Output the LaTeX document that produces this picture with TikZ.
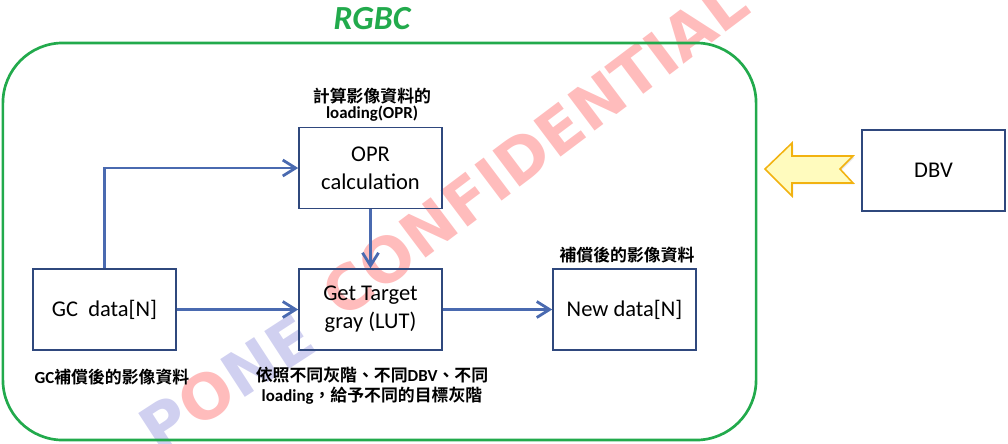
\documentclass[tikz,border=0pt]{standalone}
\usepackage{fontspec}
\setmainfont{Carlito}
\newfontfamily\cjk{Noto Sans CJK TC}[BoldFont={Noto Sans CJK TC Bold}]
\newfontfamily\wmfont{DejaVu Sans}
\usetikzlibrary{arrows.meta,shadows}
\definecolor{rgbcgreen}{RGB}{34,170,76}
\definecolor{boxblue}{RGB}{47,72,125}
\definecolor{linkblue}{RGB}{74,106,176}
\definecolor{arrowfill}{RGB}{255,251,190}
\definecolor{arrowedge}{RGB}{242,178,16}
\definecolor{wmpink}{RGB}{255,188,188}
\definecolor{wmlav}{RGB}{208,208,240}
\begin{document}
\begin{tikzpicture}[x=0.025cm,y=-0.025cm,
  procbox/.style={draw=boxblue,line width=1.1pt,minimum width=3.575cm,minimum height=2.025cm,
    align=center,inner sep=0pt,font=\fontsize{16}{20}\selectfont},
  link/.style={draw=linkblue,line width=2pt,
    -{Straight Barb[length=0.32cm,width=0.4cm,line width=2pt]}},
  note/.style={align=center,inner sep=0pt,font=\bfseries\fontsize{12}{14.2}\selectfont},
  wmark/.style={font=\wmfont\bfseries\fontsize{44}{44}\selectfont,inner sep=0pt}]
\useasboundingbox (0,0) rectangle (1008,443);

% watermark
\node[wmark,text=wmpink,rotate=37] (wm2) at (535,148) {CONFIDENTIAL};
\node[wmark,text=wmlav,rotate=33] (wm1) at (227,383) {P{\color{wmpink}O}NE};

% container
\node[draw=rgbcgreen,line width=1.9pt,rounded corners=1.5cm,minimum width=18.825cm,
  minimum height=9.925cm,inner sep=0pt] (frame) at (379.5,241.5) {};
\node[font=\bfseries\itshape\fontsize{24}{28}\selectfont,text=rgbcgreen] (title) at (372,19) {RGBC};

% boxes
\node[procbox] (opr) at (370.5,168) {OPR\\calculation};
\node[procbox] (gt) at (370.5,309.5) {Get Target\\gray (LUT)};
\node[procbox] (gc) at (104.5,309.5) {GC\ \ data[N]};
\node[procbox] (nd) at (624.5,309.5) {New data[N]};
\node[procbox] (dbv) at (933.5,170.5) {DBV};

% connectors
\draw[link] (gc.north) |- (opr.west);
\draw[link] (gc) -- (gt);
\draw[link] (opr) -- (gt);
\draw[link] (gt) -- (nd);

% yellow block arrow
\draw[fill=arrowfill,draw=arrowedge,line width=1.1pt,line join=miter,
  drop shadow={opacity=0.2,shadow xshift=1pt,shadow yshift=-1pt}]
  (765,169) -- (792,143) -- (792,156) -- (853,156) -- (840,169) -- (853,183)
  -- (792,183) -- (792,196) -- cycle;

% labels
\node[note] (l1) at (372,96) {\cjk 計算影像資料的};
\node[note] (l2) at (372,114) {loading(OPR)};
\node[note] (l3) at (627,255) {\cjk 補償後的影像資料};
\node[note] (l4) at (112,377) {GC{\cjk 補償後的影像資料}};
\node[note] (l5) at (372,386) {{\cjk 依照不同灰階、不同}DBV{\cjk 、不同}\\loading{\cjk ，給予不同的目標灰階}};
\end{tikzpicture}
\end{document}
